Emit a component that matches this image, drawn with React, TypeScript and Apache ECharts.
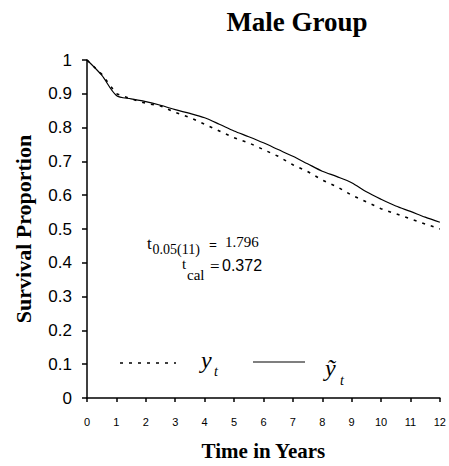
import React, { useEffect, useRef } from "react";
import * as echarts from "echarts";

const years = [0, 0.5, 1, 1.5, 2, 2.5, 3, 3.5, 4, 4.5, 5, 5.5, 6, 6.5, 7, 7.5, 8, 8.5, 9, 9.5, 10, 10.5, 11, 11.5, 12];
const observed = [1.0, 0.958, 0.9, 0.885, 0.872, 0.864, 0.845, 0.83, 0.81, 0.79, 0.77, 0.755, 0.735, 0.715, 0.69, 0.67, 0.645, 0.625, 0.6, 0.58, 0.56, 0.545, 0.53, 0.515, 0.5];
const fitted = [1.0, 0.955, 0.895, 0.885, 0.877, 0.866, 0.853, 0.842, 0.829, 0.81, 0.79, 0.773, 0.755, 0.735, 0.715, 0.693, 0.671, 0.655, 0.637, 0.61, 0.588, 0.568, 0.552, 0.535, 0.52];
const xTicks = [0, 1, 2, 3, 4, 5, 6, 7, 8, 9, 10, 11, 12];
const yTicks = [0, 0.1, 0.2, 0.3, 0.4, 0.5, 0.6, 0.7, 0.8, 0.9, 1];

const serif = "Liberation Serif";
const sans = "Liberation Sans";

function txt(text: string, x: number, y: number, size: number, opts: any = {}) {
  return {
    type: "text",
    x,
    y,
    style: {
      text,
      fill: "#000",
      fontFamily: opts.family || serif,
      fontSize: size,
      fontStyle: opts.italic ? "italic" : "normal",
      fontWeight: opts.bold ? "bold" : "normal",
      align: "left",
      verticalAlign: "middle",
    },
  };
}

export default function App() {
  const ref = useRef<HTMLDivElement>(null);
  useEffect(() => {
    const chart = echarts.init(ref.current!, null, { renderer: "svg" });
    chart.setOption({
      animation: false,
      backgroundColor: "#fff",
      title: {
        text: "Male Group",
        left: 292,
        textAlign: "center",
        top: 3,
        textStyle: { fontFamily: serif, fontWeight: "bold", fontSize: 27, color: "#000" },
      },
      grid: { left: 87, top: 60, right: 6, bottom: 66 },
      xAxis: {
        type: "value",
        min: xTicks[0],
        max: xTicks[xTicks.length - 1],
        interval: 1,
        name: "Time in Years",
        nameLocation: "middle",
        nameGap: 42,
        nameTextStyle: { fontFamily: serif, fontWeight: "bold", fontSize: 21, color: "#000" },
        axisLine: { lineStyle: { color: "#000", width: 1.5 } },
        axisTick: { length: 4, lineStyle: { color: "#000", width: 1.5 } },
        axisLabel: { fontFamily: sans, fontSize: 11, color: "#000", margin: 18 },
        splitLine: { show: false },
      },
      yAxis: {
        type: "value",
        min: yTicks[0],
        max: yTicks[yTicks.length - 1],
        interval: 0.1,
        name: "Survival Proportion",
        nameLocation: "middle",
        nameGap: 53,
        nameTextStyle: { fontFamily: serif, fontWeight: "bold", fontSize: 22, color: "#000" },
        axisLine: { show: true, lineStyle: { color: "#000", width: 1.5 } },
        axisTick: { show: true, length: 5, lineStyle: { color: "#000", width: 1.5 } },
        axisLabel: {
          fontFamily: sans,
          fontSize: 17,
          color: "#000",
          margin: 15,
          formatter: (v: number) => String(Math.round(v * 10) / 10),
        },
        splitLine: { show: false },
      },
      series: [
        {
          type: "line",
          data: years.map((x, i) => [x, observed[i]]),
          symbol: "none",
          lineStyle: { color: "#000", width: 1.6, type: [3, 6] },
        },
        {
          type: "line",
          data: years.map((x, i) => [x, fitted[i]]),
          symbol: "none",
          smooth: 0.3,
          lineStyle: { color: "#000", width: 1.2 },
        },
      ],
      graphic: [
        txt("t", 147, 243, 17),
        txt("0.05(11)", 152.5, 249.5, 14),
        txt("=", 209, 245, 14, { bold: true }),
        txt("1.796", 225, 242, 15),
        txt("t", 182, 264, 15),
        txt("cal", 187, 274.5, 15),
        txt("=", 210, 266, 17),
        txt("0.372", 222, 265.5, 16, { family: sans }),
        {
          type: "line",
          shape: { x1: 120, y1: 363, x2: 176, y2: 363 },
          style: { stroke: "#000", lineWidth: 1.6, lineDash: [3, 6] },
        },
        txt("y", 201, 360, 24, { italic: true }),
        txt("t", 214, 371, 14, { italic: true }),
        {
          type: "line",
          shape: { x1: 253, y1: 362, x2: 305, y2: 362 },
          style: { stroke: "#000", lineWidth: 1.2 },
        },
        txt("ỹ", 325, 368, 24, { italic: true }),
        txt("t", 340, 380, 14, { italic: true }),
      ],
    });
    return () => chart.dispose();
  }, []);
  return <div ref={ref} style={{ width: 449, height: 466, position: "absolute", left: 0, top: 0 }} />;
}
